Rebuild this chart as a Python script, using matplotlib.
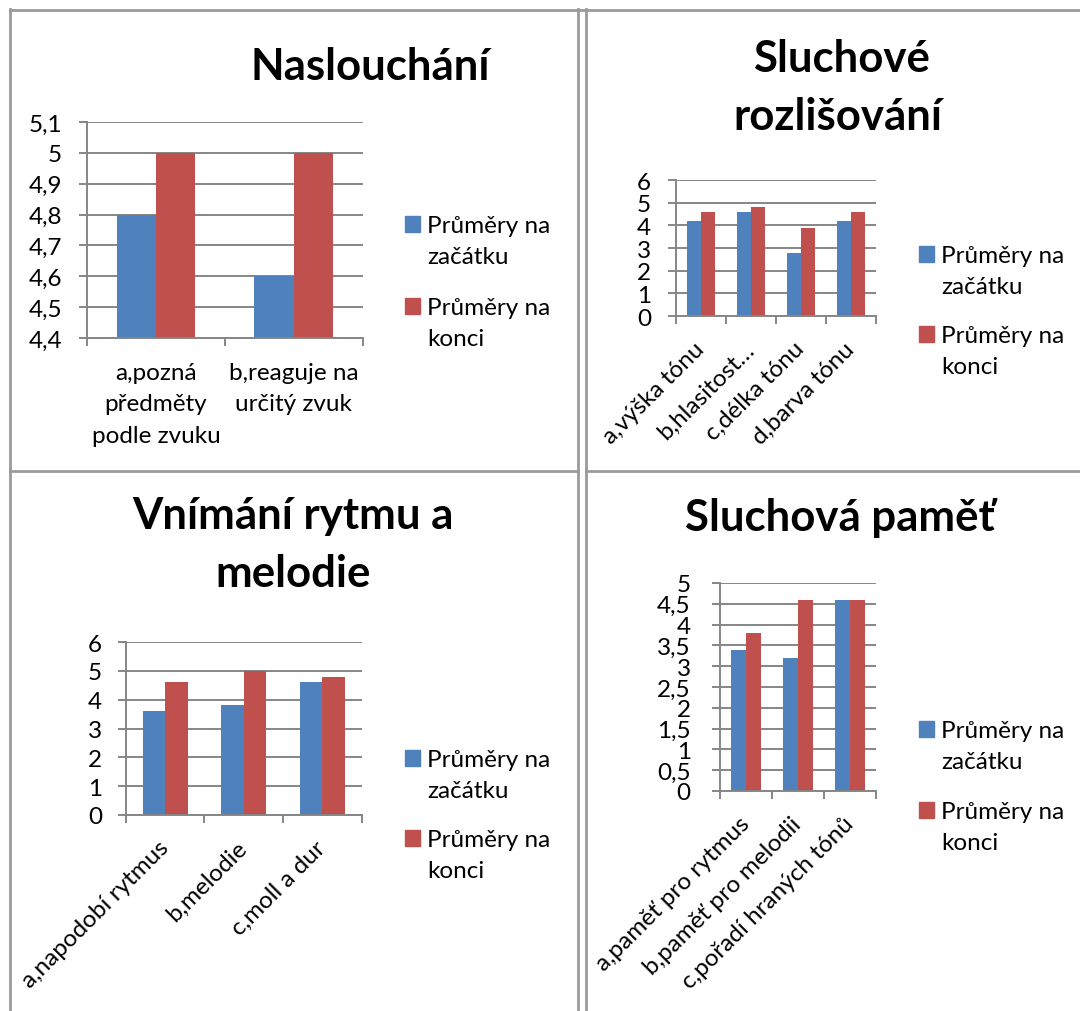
import matplotlib
matplotlib.use("Agg")
import matplotlib.pyplot as plt
from matplotlib.patches import Rectangle
from matplotlib.lines import Line2D
import numpy as np

plt.rcParams['font.family'] = ['Lato', 'DejaVu Sans']

W, H = 1080, 1012
BLUE = '#4F81BD'
RED = '#C0504D'
GRID = '#868686'
BORDER = '#9a9a9a'

series_names = [['Průměry na', 'začátku'], ['Průměry na', 'konci']]

# Panel 1
p1_title = ['Naslouchání']
p1_cats = ['a,pozná\npředměty\npodle zvuku', 'b,reaguje na\nurčitý zvuk']
p1_start = [4.8, 4.6]
p1_end = [5.0, 5.0]
p1_yticks = [4.4, 4.5, 4.6, 4.7, 4.8, 4.9, 5.0, 5.1]

# Panel 2
p2_title = ['Sluchové', 'rozlišování']
p2_cats = ['a,výška tónu', 'b,hlasitost…', 'c,délka tónu', 'd,barva tónu']
p2_start = [4.2, 4.6, 2.8, 4.2]
p2_end = [4.6, 4.8, 3.9, 4.6]
p2_yticks = [0, 1, 2, 3, 4, 5, 6]

# Panel 3
p3_title = ['Vnímání rytmu a', 'melodie']
p3_cats = ['a,napodobí rytmus', 'b,melodie', 'c,moll a dur']
p3_start = [3.6, 3.8, 4.6]
p3_end = [4.6, 5.0, 4.8]
p3_yticks = [0, 1, 2, 3, 4, 5, 6]

# Panel 4
p4_title = ['Sluchová paměť']
p4_cats = ['a,paměť pro rytmus', 'b,paměť pro melodii', 'c,pořadí hraných tónů']
p4_start = [3.4, 3.2, 4.6]
p4_end = [3.8, 4.6, 4.6]
p4_yticks = [0, 0.5, 1, 1.5, 2, 2.5, 3, 3.5, 4, 4.5, 5]

FS = 17.5
TFS = 31.5

fig = plt.figure(figsize=(W / 100, H / 100), dpi=100)


def fx(x):
    return x / W


def fy(y):
    return 1 - y / H


def fmt(v):
    s = f"{round(v, 2):g}"
    return s.replace('.', ',')


def hline(x0, x1, y, **kw):
    fig.add_artist(Line2D([fx(x0), fx(x1)], [fy(y), fy(y)], transform=fig.transFigure, **kw))


def vline(x, y0, y1, **kw):
    fig.add_artist(Line2D([fx(x), fx(x)], [fy(y0), fy(y1)], transform=fig.transFigure, **kw))


# table borders
bkw = dict(color=BORDER, lw=2)
hline(10, 1080, 11, **bkw)
vline(10, 10, 1012, **bkw)
vline(578, 10, 1012, **bkw)
vline(586, 10, 1012, **bkw)
hline(10, 578, 472, **bkw)
hline(586, 1080, 472, **bkw)


def panel(box, cats, s1, s2, yticks, ypad, rotated, title_lines, title_x, title_y0, title_dy,
          legend_x, legend_b1, legend_b2, label_pad):
    x0, y0, x1, y1 = box
    ax = fig.add_axes([fx(x0), fy(y1), fx(x1) - fx(x0), fy(y0) - fy(y1)])
    n = len(cats)
    idx = np.arange(n)
    w = 1 / 3.5
    ax.bar(idx - w / 2, s1, w, color=BLUE, zorder=2)
    ax.bar(idx + w / 2, s2, w, color=RED, zorder=2)
    ax.set_xlim(-0.5, n - 0.5)
    ax.set_ylim(yticks[0], yticks[-1])
    ax.set_yticks(yticks)
    ax.set_yticklabels([fmt(v) for v in yticks])
    ax.yaxis.grid(True, color=GRID, lw=1.4, zorder=0)
    ax.set_axisbelow(True)
    for s in ['top', 'right']:
        ax.spines[s].set_visible(False)
    for s in ['left', 'bottom']:
        ax.spines[s].set_color(GRID)
        ax.spines[s].set_linewidth(1.4)
    ax.tick_params(axis='y', length=6, width=1.4, color=GRID, pad=ypad, labelsize=FS)
    ax.set_xticks(np.arange(n + 1) - 0.5)
    ax.set_xticklabels([''] * (n + 1))
    ax.tick_params(axis='x', which='major', length=6, width=1.4, color=GRID)
    ax.set_xticks(idx, minor=True)
    if rotated:
        ax.set_xticklabels(cats, minor=True, rotation=45, ha='right', va='center',
                           rotation_mode='anchor', fontsize=FS)
        ax.tick_params(axis='x', which='minor', length=0, pad=label_pad)
    else:
        ax.set_xticklabels(cats, minor=True, fontsize=FS, linespacing=1.62)
        ax.tick_params(axis='x', which='minor', length=0, pad=label_pad)
    # title
    for k, t in enumerate(title_lines):
        fig.text(fx(title_x[k]), fy(title_y0 + k * title_dy), t, ha='center', va='baseline',
                 fontsize=TFS, fontweight='bold')
    # legend
    for b, col, lines in [(legend_b1, BLUE, series_names[0]), (legend_b2, RED, series_names[1])]:
        fig.add_artist(Rectangle((fx(legend_x), fy(b)), 15 / W, 16 / H,
                                 transform=fig.transFigure, color=col))
        for j, ln in enumerate(lines):
            fig.text(fx(legend_x + 22), fy(b + 31.5 * j), ln, ha='left', va='baseline',
                     fontsize=FS)
    return ax


panel((87, 123, 362.6, 339), p1_cats, p1_start, p1_end, p1_yticks, 12, False,
      p1_title, [370], 80, 0, 405, 233, 315, 17)
panel((676, 181, 876, 317), p2_cats, p2_start, p2_end, p2_yticks, 12, True,
      p2_title, [841, 838], 72, 58, 919, 263, 343, 21)
panel((125.8, 643, 361.8, 816), p3_cats, p3_start, p3_end, p3_yticks, 11, True,
      p3_title, [292.5, 293], 529, 58, 405, 767, 847, 21)
panel((720, 584, 876, 792), p4_cats, p4_start, p4_end, p4_yticks, 15, True,
      p4_title, [840], 531, 0, 919, 738, 819, 21)

fig.savefig('out.png', dpi=100, facecolor='white')
